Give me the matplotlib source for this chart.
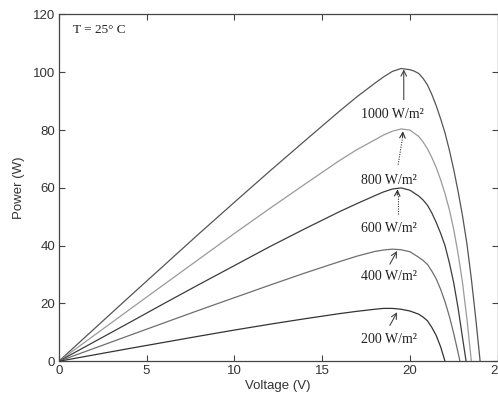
"""P-V curves of a PV module at 25 C for five irradiance levels."""

import matplotlib

matplotlib.use("Agg")
import matplotlib.pyplot as plt  # noqa: E402

# voltage (V) / power (W), one pair per irradiance
v_1000 = [0, 2, 4, 6, 8, 10, 12, 14, 16, 17, 18, 18.5, 19, 19.5, 20, 20.25,
          20.5, 20.75, 21, 21.25, 21.5, 21.75, 22, 22.25, 22.5, 22.75, 23,
          23.25, 23.5, 23.75, 24.0]
p_1000 = [0, 11.1, 22.2, 33.2, 44.2, 55.0, 65.7, 76.2, 86.6, 91.6, 96.2, 98.4,
          100.3, 101.3, 100.9, 100.4, 99.6, 97.9, 95.6, 92.3, 88.4, 83.9,
          79.0, 73.0, 66.2, 58.6, 50.2, 40.5, 28.5, 14.8, 0]

v_800 = [0, 2, 4, 6, 8, 10, 12, 14, 16, 17, 18, 18.5, 19, 19.5, 20, 20.5,
         20.75, 21, 21.25, 21.5, 21.75, 22, 22.25, 22.5, 22.75, 23, 23.25,
         23.5]
p_800 = [0, 8.88, 17.76, 26.6, 35.4, 44.2, 52.8, 61.2, 69.5, 73.3, 76.6, 78.3,
         79.6, 80.4, 80.0, 77.8, 75.9, 73.5, 70.5, 67.0, 62.8, 58.0, 52.4,
         45.5, 37.0, 27.0, 14.5, 0]

v_600 = [0, 2, 4, 6, 8, 10, 12, 14, 16, 17, 18, 18.5, 19, 19.5, 20, 20.5,
         20.75, 21, 21.25, 21.5, 21.75, 22, 22.25, 22.5, 22.75, 23, 23.2]
p_600 = [0, 6.66, 13.3, 20.0, 26.6, 33.1, 39.6, 45.8, 51.8, 54.6, 57.3, 58.6,
         59.6, 60.0, 59.2, 57.2, 55.8, 54.0, 51.3, 48.0, 44.3, 40.0, 34.0,
         27.0, 18.2, 8.0, 0]

v_400 = [0, 2, 4, 6, 8, 10, 12, 14, 16, 17, 18, 18.5, 19, 19.5, 20, 20.5,
         20.75, 21, 21.25, 21.5, 21.75, 22, 22.25, 22.5, 22.75, 22.85]
p_400 = [0, 4.44, 8.88, 13.3, 17.7, 22.0, 26.3, 30.5, 34.5, 36.4, 38.0, 38.5,
         38.8, 38.6, 37.9, 36.0, 34.9, 33.5, 31.2, 28.5, 24.9, 20.6, 15.5,
         9.5, 2.8, 0]

v_200 = [0, 2, 4, 6, 8, 10, 12, 14, 16, 17, 18, 18.5, 19, 19.5, 20, 20.5,
         20.75, 21, 21.25, 21.5, 21.75, 22.0]
p_200 = [0, 2.2, 4.4, 6.55, 8.7, 10.8, 12.8, 14.7, 16.5, 17.3, 18.0, 18.3,
         18.3, 18.0, 17.4, 16.3, 15.3, 14.0, 11.7, 8.9, 5.0, 0]

labels = ["1000 W/m²", "800 W/m²", "600 W/m²", "400 W/m²", "200 W/m²"]
x_ticks = [0, 5, 10, 15, 20, 25]
y_ticks = [0, 20, 40, 60, 80, 100, 120]

curves = [(v_1000, p_1000, "#555555"), (v_800, p_800, "#9a9a9a"),
          (v_600, p_600, "#3c3c3c"), (v_400, p_400, "#6e6e6e"),
          (v_200, p_200, "#333333")]

# label centre, arrow tail, arrow tip, dotted shaft?
notes = [((19.0, 85.5), (19.65, 90.5), (19.65, 101.0), False),
         ((18.8, 62.5), (19.33, 68.0), (19.6, 79.6), True),
         ((18.8, 46.0), (19.3, 51.0), (19.3, 59.5), True),
         ((18.8, 29.3), (18.86, 33.6), (19.27, 38.2), False),
         ((18.8, 7.5), (18.86, 12.4), (19.27, 17.0), False)]

fig = plt.figure(figsize=(4.98, 4.0), dpi=100)
ax = fig.add_axes([0.1179, 0.0968, 0.8815, 0.867])

for v, p, c in curves:
    ax.plot(v, p, color=c, lw=0.9)

serif = "Liberation Serif"
for label, (text_xy, tail, tip, dotted) in zip(labels, notes):
    ax.text(*text_xy, label, family=serif, fontsize=10, ha="center",
            va="center", color="#222222")
    if dotted:
        ax.plot([tail[0], tip[0]], [tail[1], tip[1] - 1.5], ls=(0, (1, 1.2)),
                lw=0.8, color="#333333")
        ax.annotate("", xy=tip, xytext=(tip[0] - 0.02, tip[1] - 2.0),
                    arrowprops=dict(arrowstyle="->", lw=0.8, color="#333333",
                                    shrinkA=0, shrinkB=0))
    else:
        ax.annotate("", xy=tip, xytext=tail,
                    arrowprops=dict(arrowstyle="->", lw=0.8, color="#444444",
                                    shrinkA=0, shrinkB=0))

ax.text(0.8, 114.5, "T = 25° C", family=serif, fontsize=9.5, ha="left",
        va="center", color="#222222")

ax.set_xlim(0, 25)
ax.set_ylim(0, 120)
ax.set_xticks(x_ticks)
ax.set_yticks(y_ticks)
sans = "Liberation Sans"
ax.tick_params(direction="in", top=True, right=True, length=4, width=0.8,
               color="#444444", labelcolor="#333333", labelsize=9.5, pad=2.5)
for lab in ax.get_xticklabels() + ax.get_yticklabels():
    lab.set_family(sans)
ax.set_xlabel("Voltage (V)", family=sans, fontsize=9.5, color="#333333",
              labelpad=2)
ax.set_ylabel("Power (W)", family=sans, fontsize=9.5, color="#333333",
              labelpad=6)
for s in ax.spines.values():
    s.set_color("#444444")
    s.set_linewidth(0.9)

fig.savefig("out.png", dpi=100)
plt.close(fig)
